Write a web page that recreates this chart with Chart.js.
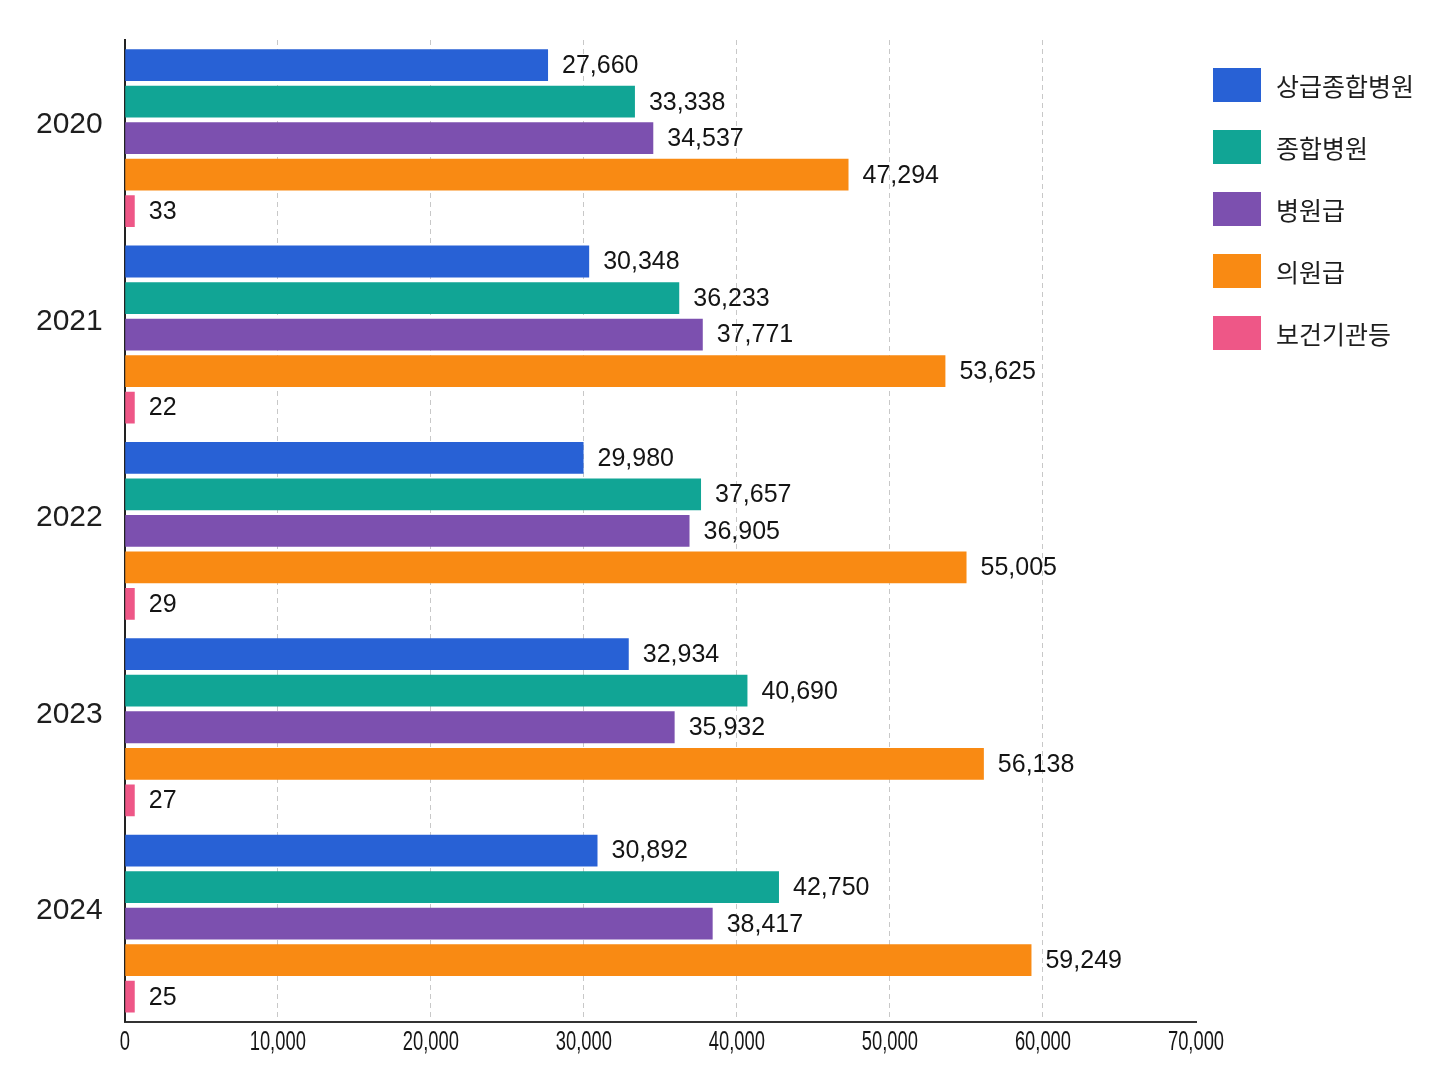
<!DOCTYPE html>
<html lang="ko">
<head>
<meta charset="utf-8">
<title>연도별 종별 현황</title>
<script src="https://cdn.jsdelivr.net/npm/chart.js@4.4.1/dist/chart.umd.min.js"></script>
<style>
    body { margin: 0; background: #fff; }
    #wrap { position: relative; width: 1448px; height: 1086px; }
    #legend { position: absolute; left: 1213px; top: 68px; font-family: "Noto Sans CJK KR", sans-serif; }
    .item { display: flex; align-items: center; height: 34px; margin-bottom: 28px; }
    .box { width: 48px; height: 34px; margin-right: 15px; }
    .txt { font-size: 25px; color: #1e1e1e; }
</style>
</head>
<body>
<div id="wrap">
    <canvas id="chart" width="1448" height="1086"></canvas>
    <div id="legend"></div>
</div>
<script>
// DATOS
const years = ["2020", "2021", "2022", "2023", "2024"];
const seriesNames = ["상급종합병원", "종합병원", "병원급", "의원급", "보건기관등"];
const tertiary = [27660, 30348, 29980, 32934, 30892];
const general = [33338, 36233, 37657, 40690, 42750];
const hospital = [34537, 37771, 36905, 35932, 38417];
const clinic = [47294, 53625, 55005, 56138, 59249];
const healthCenter = [33, 22, 29, 27, 25];
const xTicks = [0, 10000, 20000, 30000, 40000, 50000, 60000, 70000];

const colors = ["#2861d5", "#11a595", "#7c50af", "#f98a13", "#ee5787"];
const seriesValues = [tertiary, general, hospital, clinic, healthCenter];

const datasets = seriesValues.map((vals, i) => ({
    label: seriesNames[i],
    data: vals,
    backgroundColor: colors[i],
    borderWidth: 0,
    categoryPercentage: 0.93,
    barPercentage: 0.87,
    // the tiny values still get a visible stub like in the original
    minBarLength: i === 4 ? 10 : 0
}));

// etiquetas de valor al final de cada barra
const valueLabels = {
    id: 'valueLabels',
    afterDatasetsDraw(chart) {
        const ctx = chart.ctx;
        ctx.save();
        ctx.font = '25px "Liberation Sans", Arial, sans-serif';
        ctx.fillStyle = '#141414';
        ctx.textBaseline = 'middle';
        ctx.textAlign = 'left';
        chart.data.datasets.forEach((ds, di) => {
            chart.getDatasetMeta(di).data.forEach((bar, i) => {
                ctx.fillText(ds.data[i].toLocaleString('en-US'), bar.x + 14, bar.y + 1);
            });
        });
        ctx.restore();
    }
};

// eje X con números estrechos (el original usa una fuente condensada)
const narrowTicks = {
    id: 'narrowTicks',
    afterDraw(chart) {
        const ctx = chart.ctx;
        const x = chart.scales.x;
        ctx.save();
        ctx.font = '27px "Liberation Sans", Arial, sans-serif';
        ctx.fillStyle = '#151515';
        ctx.textBaseline = 'middle';
        ctx.textAlign = 'center';
        x.ticks.forEach(t => {
            const px = x.getPixelForValue(t.value);
            ctx.save();
            ctx.translate(px, x.top + 21);
            ctx.scale(0.68, 1);
            ctx.fillText(t.value.toLocaleString('en-US'), 0, 0);
            ctx.restore();
        });
        ctx.restore();
    }
};

new Chart(document.getElementById('chart'), {
    type: 'bar',
    data: { labels: years, datasets: datasets },
    options: {
        indexAxis: 'y',
        responsive: false,
        animation: false,
        layout: { padding: { left: 14, top: 30, right: 252, bottom: 29 } },
        plugins: {
            legend: { display: false },
            tooltip: { enabled: false }
        },
        scales: {
            x: {
                min: 0,
                max: 70000,
                afterBuildTicks: (axis) => { axis.ticks = xTicks.map(v => ({ value: v })); },
                ticks: {
                    padding: 8,
                    color: 'rgba(0,0,0,0)',
                    font: { family: '"Liberation Sans", sans-serif', size: 16 },
                    callback: (v) => v.toLocaleString('en-US')
                },
                grid: {
                    drawTicks: false,
                    lineWidth: 1,
                    color: (c) => (c.index === 0 || c.index === xTicks.length - 1) ? 'rgba(0,0,0,0)' : '#c8c8c8'
                },
                border: { color: '#333', width: 2, dash: [5, 4] }
            },
            y: {
                ticks: {
                    padding: 22,
                    labelOffset: -13,
                    color: '#1e1e1e',
                    font: { family: '"Liberation Sans", Arial, sans-serif', size: 30 }
                },
                grid: { display: false, drawTicks: false },
                border: { color: '#222', width: 2 }
            }
        }
    },
    plugins: [valueLabels, narrowTicks]
});

// LEYENDA
const legend = document.getElementById('legend');
seriesNames.forEach((name, i) => {
    legend.insertAdjacentHTML('beforeend',
        '<div class="item"><div class="box" style="background:' + colors[i] + '"></div><span class="txt">' + name + '</span></div>');
});
</script>
</body>
</html>
